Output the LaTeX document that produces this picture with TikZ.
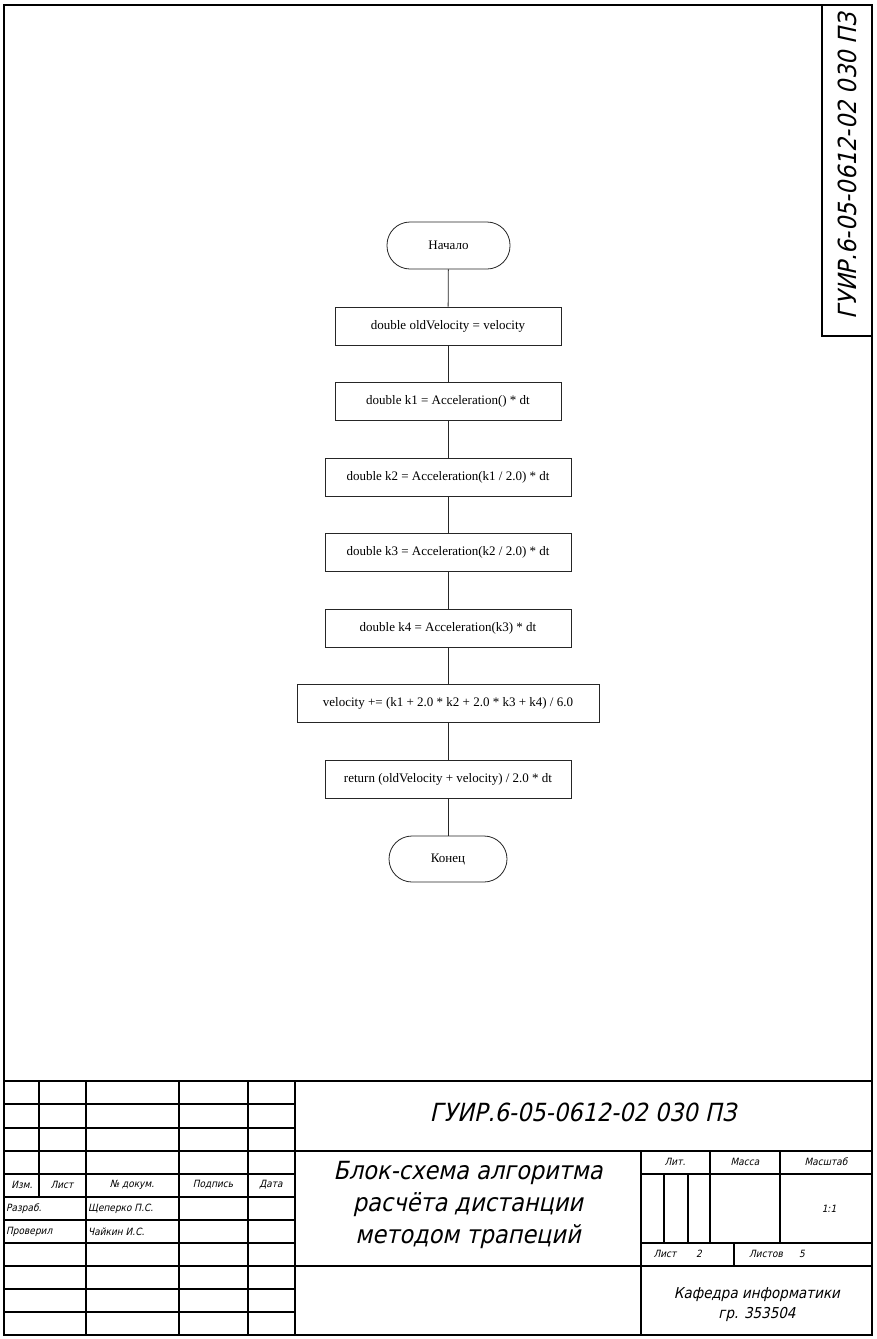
\documentclass[tikz,border=0pt]{standalone}
\usepackage{fontspec}
\setmainfont{Liberation Serif}
\newfontfamily\gost{DejaVu Sans Condensed}[FakeSlant=0.22]
\usetikzlibrary{positioning}
\begin{document}
\begin{tikzpicture}[x=1pt,y=-1pt,
  frameline/.style={line width=2.2pt,black},
  gridline/.style={line width=1.7pt,black},
  flowline/.style={line width=0.8pt,black!85},
  proc/.style={draw=black!85,line width=0.8pt,rectangle,minimum height=38pt,inner sep=0pt,font=\fontsize{13}{15}\selectfont},
  term/.style={draw=black!85,line width=0.8pt,rectangle,rounded corners=23pt,minimum height=47pt,inner sep=0pt,font=\fontsize{13}{15}\selectfont},
  small/.style={inner sep=0pt,font=\gost\fontsize{10}{12}\selectfont},
  big/.style={inner sep=0pt,font=\gost\fontsize{25}{32}\selectfont},
  mid/.style={inner sep=0pt,font=\gost\fontsize{15}{20}\selectfont,align=center}]
\useasboundingbox (0,0) rectangle (876,1339);
\fill[white] (0,0) rectangle (876,1339);

% ---- flowchart ----
\node[term,minimum width=123pt] (start) at (448.5,245.5) {Начало};
\node[proc,minimum width=226pt] (b1) at (448,326) {double oldVelocity = velocity};
\node[proc,minimum width=226pt] (b2) at (448,401) {double k1 = Acceleration() * dt};
\node[proc,minimum width=246pt] (b3) at (448,477) {double k2 = Acceleration(k1 / 2.0) * dt};
\node[proc,minimum width=246pt] (b4) at (448,552) {double k3 = Acceleration(k2 / 2.0) * dt};
\node[proc,minimum width=246pt] (b5) at (448,628) {double k4 = Acceleration(k3) * dt};
\node[proc,minimum width=302pt] (b6) at (448,703.5) {velocity += (k1 + 2.0 * k2 + 2.0 * k3 + k4) / 6.0};
\node[proc,minimum width=246pt] (b7) at (448,779) {return (oldVelocity + velocity) / 2.0 * dt};
\node[term,minimum width=118pt,minimum height=46pt] (stop) at (448,859) {Конец};

\draw[flowline] (start) -- (b1);
\draw[flowline] (b1) -- (b2);
\draw[flowline] (b2) -- (b3);
\draw[flowline] (b3) -- (b4);
\draw[flowline] (b4) -- (b5);
\draw[flowline] (b5) -- (b6);
\draw[flowline] (b6) -- (b7);
\draw[flowline] (b7) -- (stop);

% ---- sheet frame and side stamp ----
\draw[frameline] (4,5) rectangle (872,1335);
\draw[frameline] (822,5) -- (822,336) -- (872,336);
\node[big,rotate=90] (sidecode) at (847,166) {ГУИР.6-05-0612-02 030 ПЗ};

% ---- title block grid ----
\draw[frameline] (4,1081) -- (872,1081);
\foreach \y in {1104,1128,1151,1174,1197,1220,1243,1266,1289,1312}
  \draw[gridline] (4,\y) -- (295,\y);
\draw[gridline] (39,1081) -- (39,1197);
\foreach \x in {86,179,248}
  \draw[gridline] (\x,1081) -- (\x,1335);
\draw[gridline] (295,1081) -- (295,1335);
\draw[gridline] (295,1151) -- (872,1151);
\draw[gridline] (295,1266) -- (872,1266);
\draw[gridline] (641,1151) -- (641,1335);
\draw[gridline] (641,1174) -- (872,1174);
\draw[gridline] (641,1243) -- (872,1243);
\foreach \x in {664,688}
  \draw[gridline] (\x,1174) -- (\x,1243);
\foreach \x in {710,780}
  \draw[gridline] (\x,1151) -- (\x,1243);
\draw[gridline] (734,1243) -- (734,1266);

% ---- title block texts ----
\node[big] (code) at (583,1112) {ГУИР.6-05-0612-02 030 ПЗ};
\node[big,align=center,font=\gost\fontsize{25}{32}\selectfont] (title) at (468,1205)
  {Блок-схема алгоритма\\расчёта дистанции\\методом трапеций};

\node[small] (hlit) at (675,1162) {Лит.};
\node[small] (hmass) at (745,1162) {Масса};
\node[small] (hscale) at (826,1162) {Масштаб};
\node[small] (scale) at (829,1209) {1:1};
\node[small] (sheet) at (665,1254) {Лист};
\node[small] (sheetno) at (699,1254) {2};
\node[small] (sheets) at (766,1254) {Листов};
\node[small] (sheetsno) at (802,1254) {5};
\node[mid] (dept) at (757,1305) {Кафедра информатики\\гр. 353504};

\node[small] (hizm) at (22,1185) {Изм.};
\node[small] (hlist) at (62,1185) {Лист};
\node[small] (hdoc) at (132,1185) {№ докум.};
\node[small] (hsign) at (213,1185) {Подпись};
\node[small] (hdate) at (271,1185) {Дата};
\node[small,anchor=west] (rdev) at (6,1209) {Разраб.};
\node[small,anchor=west] (ndev) at (88,1209) {Щеперко П.С.};
\node[small,anchor=west] (rchk) at (6,1232) {Проверил};
\node[small,anchor=west] (nchk) at (88,1232) {Чайкин И.С.};
\end{tikzpicture}
\end{document}
